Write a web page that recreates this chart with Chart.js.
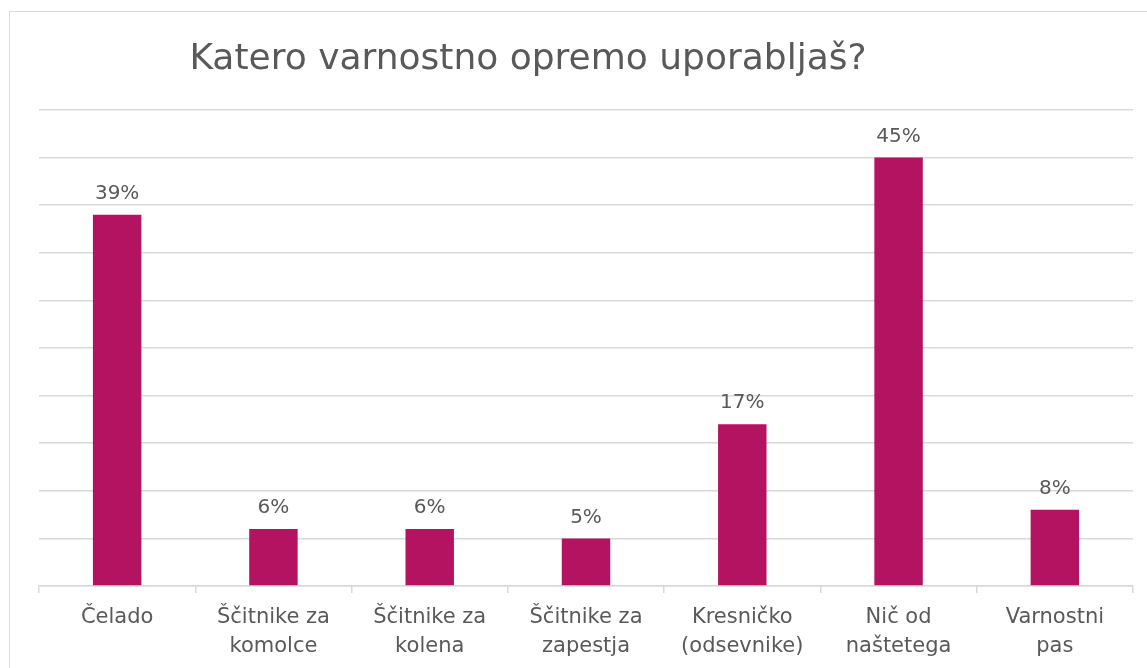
<!DOCTYPE html>
<html>
<head>
    <meta charset="UTF-8">
    <title>Katero varnostno opremo uporabljaš?</title>
    <script src="https://cdn.jsdelivr.net/npm/chart.js"></script>
    <style>
       body {
           margin: 0;
           background: #fff;
           overflow: hidden;
       }
       .frame {
           position: absolute;
           left: 9px;
           top: 11px;
           width: 1200px;
           height: 700px;
           border: 1px solid #d9d9d9;
       }
       .chart-container {
           position: absolute;
           left: 0;
           top: 0;
           width: 1147px;
           height: 668px;
       }
   </style>
</head>
<body>
   <div class="frame"></div>
   <div class="chart-container">
       <canvas id="equipmentChart"></canvas>
   </div>

    <script>
    const chartTitle = 'Katero varnostno opremo uporabljaš?';
    const categories = [
        'Čelado',
        ['Ščitnike za', 'komolce'],
        ['Ščitnike za', 'kolena'],
        ['Ščitnike za', 'zapestja'],
        ['Kresničko', '(odsevnike)'],
        ['Nič od', 'naštetega'],
        ['Varnostni', 'pas']
    ];
    const percentages = [39, 6, 6, 5, 17, 45, 8];

    const textColor = '#595959';
    const fontFamily = '"DejaVu Sans", "Century Gothic", sans-serif';

    // title sits left of centre in the original, so draw it by hand
    const titlePlugin = {
        id: 'manualTitle',
        afterDraw(chart) {
            const ctx = chart.ctx;
            ctx.save();
            ctx.font = '36px ' + fontFamily;
            ctx.fillStyle = textColor;
            ctx.textAlign = 'center';
            ctx.textBaseline = 'middle';
            ctx.fillText(chartTitle, 528, 60);
            ctx.restore();
        }
    };

    const valueLabels = {
        id: 'valueLabels',
        afterDatasetsDraw(chart) {
            const ctx = chart.ctx;
            ctx.save();
            ctx.font = '20px ' + fontFamily;
            ctx.fillStyle = textColor;
            ctx.textAlign = 'center';
            ctx.textBaseline = 'bottom';
            chart.getDatasetMeta(0).data.forEach((bar, i) => {
                ctx.fillText(percentages[i] + '%', bar.x, bar.y - 11);
            });
            ctx.restore();
        }
    };

    new Chart('equipmentChart', {
        type: 'bar',
        data: {
            labels: categories,
            datasets: [{
                data: percentages,
                backgroundColor: '#b41361',
                categoryPercentage: 1,
                barPercentage: 0.31
            }]
        },
        options: {
            responsive: true,
            maintainAspectRatio: false,
            animation: false,
            layout: {
                padding: { left: 39, right: 14, top: 110, bottom: -3 }
            },
            plugins: {
                legend: { display: false },
                title: { display: false },
                tooltip: { enabled: false }
            },
            scales: {
                x: {
                    grid: {
                        offset: true,
                        drawOnChartArea: false,
                        drawTicks: true,
                        tickLength: 7,
                        color: '#d9d9d9',
                        lineWidth: 1.5
                    },
                    border: { color: '#d9d9d9', width: 1.5 },
                    ticks: {
                        color: textColor,
                        font: { family: fontFamily, size: 21, lineHeight: 1.38 },
                        padding: 10,
                        maxRotation: 0,
                        autoSkip: false
                    }
                },
                y: {
                    min: 0,
                    max: 50,
                    afterFit(scale) { scale.width = 0; },
                    ticks: { display: false, stepSize: 5 },
                    border: { display: false },
                    grid: { drawTicks: false, color: '#d9d9d9', lineWidth: 1.5 }
                }
            }
        },
        plugins: [titlePlugin, valueLabels]
    });
    </script>
</body>
</html>
